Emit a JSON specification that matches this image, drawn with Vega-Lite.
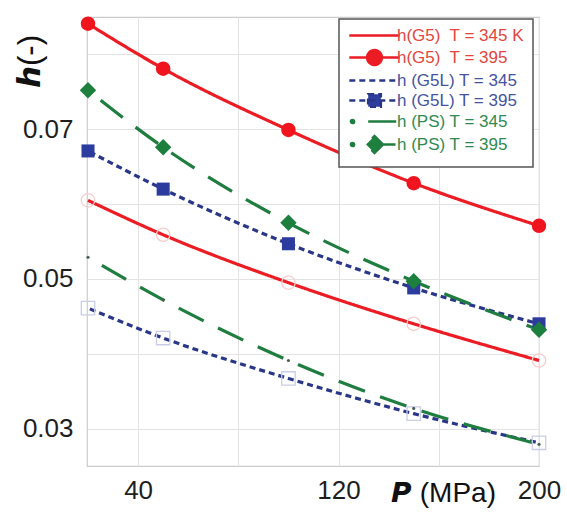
{
  "$schema": "https://vega.github.io/schema/vega-lite/v6.json",
  "autosize": {"type": "none"},
  "width": 452,
  "height": 449,
  "padding": {"left": 87, "top": 17, "right": 28, "bottom": 49},
  "data": {
    "values": [
      {"P": 20, "h": 0.0605, "s": "h(G5)\u00a0 T = 345 K"},
      {"P": 50, "h": 0.0559, "s": "h(G5)\u00a0 T = 345 K"},
      {"P": 100, "h": 0.0495, "s": "h(G5)\u00a0 T = 345 K"},
      {"P": 150, "h": 0.0440, "s": "h(G5)\u00a0 T = 345 K"},
      {"P": 200, "h": 0.0391, "s": "h(G5)\u00a0 T = 345 K"},
      {"P": 20, "h": 0.0841, "s": "h(G5)\u00a0 T = 395"},
      {"P": 50, "h": 0.0781, "s": "h(G5)\u00a0 T = 395"},
      {"P": 100, "h": 0.0699, "s": "h(G5)\u00a0 T = 395"},
      {"P": 150, "h": 0.0628, "s": "h(G5)\u00a0 T = 395"},
      {"P": 200, "h": 0.0571, "s": "h(G5)\u00a0 T = 395"},
      {"P": 20, "h": 0.0461, "s": "h (G5L) T = 345"},
      {"P": 50, "h": 0.0421, "s": "h (G5L) T = 345"},
      {"P": 100, "h": 0.0367, "s": "h (G5L) T = 345"},
      {"P": 150, "h": 0.0320, "s": "h (G5L) T = 345"},
      {"P": 200, "h": 0.0281, "s": "h (G5L) T = 345"},
      {"P": 20, "h": 0.0671, "s": "h (G5L) T = 395"},
      {"P": 50, "h": 0.0620, "s": "h (G5L) T = 395"},
      {"P": 100, "h": 0.0547, "s": "h (G5L) T = 395"},
      {"P": 150, "h": 0.0488, "s": "h (G5L) T = 395"},
      {"P": 200, "h": 0.0440, "s": "h (G5L) T = 395"},
      {"P": 20, "h": 0.0529, "s": "h (PS) T = 345"},
      {"P": 50, "h": 0.0472, "s": "h (PS) T = 345"},
      {"P": 100, "h": 0.0391, "s": "h (PS) T = 345"},
      {"P": 150, "h": 0.0327, "s": "h (PS) T = 345"},
      {"P": 200, "h": 0.0279, "s": "h (PS) T = 345"},
      {"P": 20, "h": 0.0752, "s": "h (PS) T = 395"},
      {"P": 50, "h": 0.0676, "s": "h (PS) T = 395"},
      {"P": 100, "h": 0.0575, "s": "h (PS) T = 395"},
      {"P": 150, "h": 0.0497, "s": "h (PS) T = 395"},
      {"P": 200, "h": 0.0432, "s": "h (PS) T = 395"}
    ]
  },
  "encoding": {
    "x": {
      "field": "P",
      "type": "quantitative",
      "scale": {"domain": [19.6, 200], "nice": false, "zero": false},
      "axis": {
        "values": [40, 80, 120, 160, 200],
        "labelExpr": "datum.value == 80 || datum.value == 160 ? '' : datum.label",
        "labelPadding": 11,
        "labelFlush": false,
        "labelOverlap": false,
        "title": "𝙋 (MPa)",
        "titleFontSize": 28,
        "titleX": 356,
        "titleY": 35,
        "titleAlign": "center",
        "titleBaseline": "alphabetic"
      }
    },
    "y": {
      "field": "h",
      "type": "quantitative",
      "scale": {"domain": [0.025, 0.085], "nice": false, "zero": false},
      "axis": {
        "values": [0.03, 0.04, 0.05, 0.06, 0.07, 0.08],
        "format": ".2f",
        "labelExpr": "indexof(['0.03', '0.05', '0.07'], datum.label) >= 0 ? datum.label : ''",
        "labelPadding": 14,
        "labelOverlap": false,
        "title": "𝙝(-)",
        "titleFontSize": 31,
        "titleX": -57,
        "titleY": 44,
        "titleAngle": -90,
        "titleAlign": "center",
        "titleBaseline": "middle"
      }
    }
  },
  "layer": [
    {
      "mark": {"type": "line", "interpolate": "monotone", "strokeWidth": 3.2, "strokeDashOffset": 28, "clip": false},
      "encoding": {
        "stroke": {
          "field": "s",
          "type": "nominal",
          "sort": null,
          "scale": {
            "domain": ["h(G5)\u00a0 T = 345 K", "h(G5)\u00a0 T = 395", "h (G5L) T = 345", "h (G5L) T = 395", "h (PS) T = 345", "h (PS) T = 395"],
            "range": ["#ec1c24", "#ec1c24", "#2a3788", "#2a3788", "#1f7d40", "#1f7d40"]
          },
          "legend": {
            "title": null,
            "orient": "none",
            "legendX": 252,
            "legendY": 2,
            "padding": 8,
            "rowPadding": 0,
            "fillColor": "#ffffff",
            "strokeColor": "#555555",
            "symbolSize": 196,
            "symbolStrokeWidth": 2,
            "symbolOffset": 19,
            "labelOffset": 14,
            "labelFont": "Liberation Sans",
            "labelFontSize": 17,
            "labelLimit": 300,
            "encode": {
              "legend": {"update": {"strokeWidth": {"value": 1.5}}},
              "symbols": {
                "update": {
                  "shape": {"signal": "['M-3.6,0L3.6,0', 'M-3.6,0L3.6,0M-1.05,0A1.05,1.05 0 1,0 1.05,0A1.05,1.05 0 1,0 -1.05,0Z', 'M-3.6,0L3.6,0', 'M-0.9,-0.9L0.9,-0.9L0.9,0.9L-0.9,0.9ZM-3.6,0L3.6,0', 'M-3.36,0A0.22,0.22 0 1,0 -2.92,0A0.22,0.22 0 1,0 -3.36,0ZM-0.9,0L3.6,0', 'M-3.36,0A0.22,0.22 0 1,0 -2.92,0A0.22,0.22 0 1,0 -3.36,0ZM-1,0L3.6,0M0,-1.2L1.2,0L0,1.2L-1.2,0Z'][datum.index]"},
                  "size": {"value": 196},
                  "stroke": {"signal": "datum.index < 2 ? '#ec1c24' : datum.index < 4 ? '#2a3788' : '#1f7d40'"},
                  "fill": {"signal": "datum.index < 2 ? '#ec1c24' : datum.index < 4 ? '#2f3fa0' : '#1f8040'"},
                  "strokeWidth": {"value": 2.6},
                  "strokeDash": {"signal": "datum.index == 2 || datum.index == 3 ? [6, 3] : [1, 0]"},
                  "opacity": {"value": 1}
                }
              },
              "labels": {
                "update": {
                  "fill": {"signal": "datum.index < 2 ? '#e2463e' : datum.index < 4 ? '#45539e' : '#2f8a52'"}
                }
              }
            }
          }
        },
        "strokeDash": {
          "field": "s",
          "type": "nominal",
          "sort": null,
          "scale": {
            "domain": ["h(G5)\u00a0 T = 345 K", "h(G5)\u00a0 T = 395", "h (G5L) T = 345", "h (G5L) T = 395", "h (PS) T = 345", "h (PS) T = 395"],
            "range": [[1, 0], [1, 0], [6, 4], [6, 4], [28, 16], [28, 16]]
          },
          "legend": null
        }
      }
    },
    {
      "transform": [{"filter": {"field": "s", "equal": "h(G5)\u00a0 T = 345 K"}}],
      "mark": {"type": "point", "shape": "circle", "filled": false, "stroke": "#f6cdcd", "strokeWidth": 1.3, "size": 180, "opacity": 1, "clip": false}
    },
    {
      "transform": [{"filter": {"field": "s", "equal": "h (G5L) T = 345"}}],
      "mark": {"type": "point", "shape": "square", "filled": false, "stroke": "#c9cde6", "strokeWidth": 1.3, "size": 180, "opacity": 1, "clip": false}
    },
    {
      "transform": [{"filter": {"field": "s", "equal": "h (PS) T = 345"}}],
      "mark": {"type": "point", "shape": "circle", "filled": true, "color": "#4a6050", "size": 10, "opacity": 1, "clip": false}
    },
    {
      "transform": [{"filter": {"field": "s", "equal": "h(G5)\u00a0 T = 395"}}],
      "mark": {"type": "point", "shape": "circle", "filled": true, "color": "#f0141e", "size": 210, "opacity": 1, "clip": false}
    },
    {
      "transform": [{"filter": {"field": "s", "equal": "h (G5L) T = 395"}}],
      "mark": {"type": "point", "shape": "square", "filled": true, "color": "#2c3c9e", "size": 170, "opacity": 1, "clip": false}
    },
    {
      "transform": [{"filter": {"field": "s", "equal": "h (PS) T = 395"}}],
      "mark": {"type": "point", "shape": "diamond", "filled": true, "color": "#1c7f3e", "size": 270, "opacity": 1, "clip": false}
    }
  ],
  "config": {
    "font": "Liberation Sans",
    "view": {"stroke": "#cccccc", "strokeWidth": 1.2},
    "axis": {
      "grid": true,
      "gridColor": "#e3e3e3",
      "gridWidth": 1,
      "domain": false,
      "ticks": false,
      "labelFont": "Liberation Sans",
      "labelFontSize": 26,
      "labelColor": "#1e1e1e",
      "titleFont": "Liberation Sans",
      "titleFontSize": 27,
      "titleFontWeight": "normal",
      "titleColor": "#111111"
    }
  }
}
